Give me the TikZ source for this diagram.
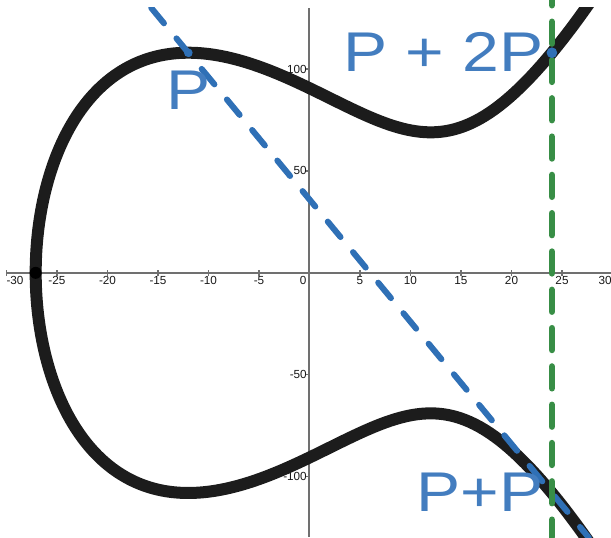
\documentclass[tikz,border=0pt]{standalone}
\usepackage{fontspec}
\setmainfont{Liberation Sans}
\usepackage{graphicx}
\usepackage{tikz}

\definecolor{curveblack}{HTML}{1C1C1C}
\definecolor{tanblue}{HTML}{2F70B6}
\definecolor{labblue}{HTML}{437DBF}
\definecolor{vgreen}{HTML}{388E46}
\definecolor{axisgray}{HTML}{707070}
\newcommand{\rootx}{27.107}

\begin{document}
\begin{tikzpicture}[
  x=0.303cm, y=0.06114cm,
  axis/.style={draw=axisgray, line width=0.06cm},
  tickmark/.style={draw=axisgray, line width=0.04cm},
  ticklab/.style={inner sep=0pt, text=black!90, font=\fontsize{10}{11}\selectfont},
  curve/.style={draw=curveblack, line width=0.36cm},
  tangent/.style={draw=tanblue, line width=0.18cm, line cap=round, dash pattern=on 0.6cm off 0.588cm},
  vline/.style={draw=vgreen, line width=0.195cm, line cap=round, dash pattern=on 0.654cm off 0.495cm, dash phase=0.4965cm},
  lab/.style={inner sep=0pt, anchor=base west, text=labblue, font=\fontsize{47.8}{50}\selectfont}
]
\useasboundingbox (-30.64,-129.64) rectangle (29.85,133.86);
% axes and ticks
\draw[axis] (-30,0) -- (29.85,0);
\draw[axis] (0,-129.64) -- (0,130);
\foreach \t in {-30,-25,...,30}
  \draw[tickmark] (\t,0) ++(0pt,-0.09cm) -- ++(0pt,0.18cm);
\foreach \t in {100,50,-50,-100}
  \draw[tickmark] (0,\t) -- ++(-0.12cm,0pt);
\foreach \t in {-25,-20,-15,-10,-5,5,10,15,20,25}
  \node[ticklab, anchor=north] (xl\t) at (\t,-1.62) {\t};
\node[ticklab, anchor=north] (xlm30) at (-29.15,-1.62) {-30};
\node[ticklab, anchor=north] (xl0) at (-0.64,-1.62) {0};
\node[ticklab, anchor=north] (xl30) at (29.26,-1.62) {30};
\foreach \t in {100,50,-50,-100}
  \node[ticklab, anchor=east] (yl\t) at (-0.25,\t) {\t};

% points on the curve
\coordinate (P) at (-12,108);
\coordinate (Q) at (24,108);
\coordinate (R) at (24,-108);
\coordinate (ttop) at (-15.667,130);
\coordinate (tbot) at (27.667,-130);
\coordinate (vtop) at (24,133.86);
\coordinate (vbot) at (24,-129.64);

\begin{scope}
  \clip (-30.64,-130) rectangle (29.85,130);
  % y^2 = x^3 - 432x + 8208
  \draw[curve] plot[domain=-7.45:7.45, samples=400, variable=\s]
    ({\s*\s-\rootx}, {\s*sqrt((\s*\s-\rootx)^2-\rootx*(\s*\s-\rootx)+\rootx*\rootx-432)});
  \fill[black] (-\rootx,0) circle[radius=0.18cm];
  \draw[tangent] (ttop) -- (tbot);
\end{scope}
\draw[vline] (vtop) -- (vbot);
\fill[tanblue] (Q) circle[radius=0.16cm];
\fill[tanblue] (P) circle[radius=0.13cm];

% labels
\node[lab] (lP) at (-14.14,79.9) {\scalebox{1.18}[1]{P}};
\node[lab] (lPtwoP) at (3.35,98.7) {\scalebox{1.18}[1]{P + 2P}};
\node[lab] (lPP) at (10.61,-117.2) {\scalebox{1.18}[1]{P+P}};
\end{tikzpicture}
\end{document}
